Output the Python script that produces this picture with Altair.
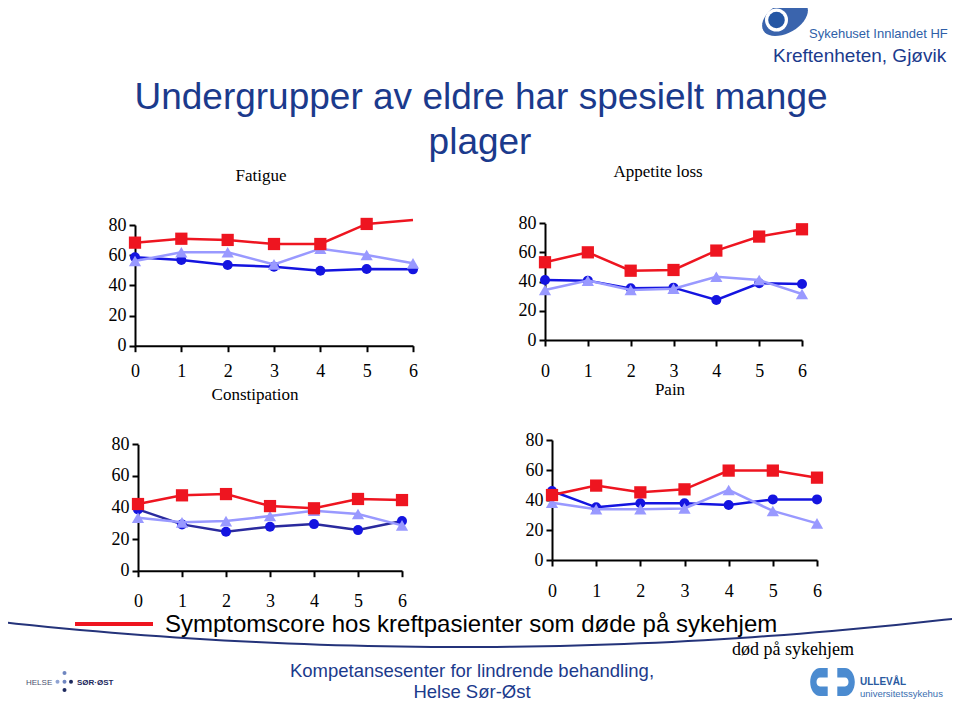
import math
import altair as alt
import pandas as pd

# ---------------- data ----------------
x_vals = [0, 1, 2, 3, 4, 5, 6]
y_ticks = [0, 20, 40, 60, 80]

fatigue_red = [68.3, 70.9, 70.1, 67.4, 67.4, 80.7, 83.3]
fatigue_blue = [58.6, 56.8, 53.5, 52.4, 49.7, 50.8, 50.6]
fatigue_light = [56.1, 61.9, 61.9, 53.9, 64.3, 60.1, 54.6]

appetite_red = [53.3, 60.1, 47.5, 48.0, 61.3, 70.9, 75.9]
appetite_blue = [41.1, 40.7, 35.4, 35.9, 27.4, 38.9, 38.4]
appetite_light = [34.3, 40.7, 34.3, 35.2, 43.4, 41.1, 31.5]

constipation_red = [42.2, 47.7, 48.5, 40.9, 39.5, 45.4, 44.7]
constipation_blue = [38.8, 29.3, 24.7, 27.8, 29.5, 25.7, 31.4]
constipation_light = [33.5, 30.6, 31.4, 34.6, 38.0, 35.9, 28.7]

pain_red = [43.3, 49.6, 45.1, 47.1, 59.6, 59.6, 54.9]
pain_blue = [46.0, 35.1, 37.8, 37.8, 36.7, 40.4, 40.4]
pain_light = [38.2, 33.8, 33.8, 34.4, 46.7, 32.7, 24.4]

title_lines = ["Undergrupper av eldre har spesielt mange", "plager"]
panel_titles = ["Fatigue", "Appetite loss", "Constipation", "Pain"]
legend_text = "Symptomscore hos kreftpasienter som døde på sykehjem"
legend_sub = "død på sykehjem"
footer_lines = ["Kompetansesenter for lindrende behandling,", "Helse Sør-Øst"]
logo_top = ["Sykehuset Innlandet HF", "Kreftenheten, Gjøvik"]
logo_ullevaal = ["ULLEVÅL", "universitetssykehus"]
logo_helse = ["HELSE", "SØR·ØST"]

# ---------------- styling ----------------
W, H = 944, 694
RED = "#EE1520"
BLUE = "#1414E0"
NAVYLINE = "#2A2A9E"
LIGHT = "#9999FF"
TXT_BLUE = "#1B3A8C"
SERIF = "Liberation Serif"
SANS = "Liberation Sans"

one = pd.DataFrame({"k": [0]})


def panel(red, blue, light, x0, x6, y0, y80, xpad, blue_line=BLUE, skip_last_red=False):
    df = pd.DataFrame({"x": x_vals, "red": red, "blue": blue, "light": light})
    sx = alt.Scale(domain=[0, 6], range=[x0, x6], nice=False, zero=False)
    sy = alt.Scale(domain=[0, 80], range=[y0, y80], nice=False, zero=False)
    common = dict(grid=False, domainColor="black", domainWidth=2, tickColor="black",
                  tickWidth=2, tickSize=6, labelFont=SERIF, labelFontSize=18,
                  labelColor="black", title=None, labelOverlap=False, labelFlush=False,
                  format="d")
    ax = alt.Axis(values=x_vals, orient="bottom", offset=y0 - H, labelPadding=xpad, **common)
    ay = alt.Axis(values=y_ticks, orient="left", offset=-x0, labelPadding=3, **common)
    base = alt.Chart(df)
    X = alt.X("x:Q", scale=sx, axis=ax)
    layers = []
    specs = [("blue", blue_line, BLUE, "circle", 100),
             ("light", LIGHT, LIGHT, "triangle-up", 150),
             ("red", RED, RED, "square", 150)]
    for col, lcol, mcol, shape, size in specs:
        Y = alt.Y(f"{col}:Q", scale=sy, axis=ay)
        layers.append(base.mark_line(color=lcol, strokeWidth=2.5).encode(x=X, y=Y))
        pts = base
        if col == "red" and skip_last_red:
            pts = base.transform_filter(alt.datum.x < 6)
        layers.append(pts.mark_point(filled=True, shape=shape, size=size, color=mcol,
                                     opacity=1).encode(x=X, y=Y))
    return alt.layer(*layers)


def txt(t, x, y, size, font=SANS, color="black", align="center", weight="normal"):
    return alt.Chart(one).mark_text(text=t, align=align, baseline="alphabetic", font=font,
                                    fontSize=size, color=color, fontWeight=weight).encode(
        x=alt.value(x), y=alt.value(y))


def sym(shape, x, y, size, color, filled=True, sw=1.0):
    if filled:
        m = alt.Chart(one).mark_point(shape=shape, size=size, filled=True, color=color,
                                      opacity=1, strokeWidth=0)
    else:
        m = alt.Chart(one).mark_point(shape=shape, size=size, filled=False, color=color,
                                      opacity=1, strokeWidth=sw)
    return m.encode(x=alt.value(x), y=alt.value(y))


p_tl = panel(fatigue_red, fatigue_blue, fatigue_light, 127, 405, 337.7, 217, 11, skip_last_red=True)
p_tr = panel(appetite_red, appetite_blue, appetite_light, 537, 794, 332, 215.3, 16)
p_bl = panel(constipation_red, constipation_blue, constipation_light, 130, 394, 562.7, 436.3, 16,
             blue_line=NAVYLINE)
p_br = panel(pain_red, pain_blue, pain_light, 544, 809, 552, 432, 16)

# decorative swoosh line across the bottom of the slide (quadratic bezier, pixel coords)
P0, C, P2 = (-8.0, 614.0), (472.0, 666.0), (952.0, 610.0)
sw_x, sw_y = [], []
for i in range(61):
    t = i / 60
    a, b, c = (1 - t) ** 2, 2 * t * (1 - t), t ** 2
    sw_x.append(a * P0[0] + b * C[0] + c * P2[0])
    sw_y.append(a * P0[1] + b * C[1] + c * P2[1])
swoosh = alt.Chart(pd.DataFrame({"px": sw_x, "py": sw_y, "o": list(range(61))})).mark_line(
    color="#24337A", strokeWidth=2).encode(
    x=alt.X("px:Q", scale=None, axis=None), y=alt.Y("py:Q", scale=None, axis=None),
    order="o:Q")

# eye logo (rotated ellipse)
pts = []
th = math.radians(-30)
for i in range(40):
    t = 2 * math.pi * i / 40
    ex, ey = math.cos(t), 0.6 * math.sin(t)
    pts.append((ex * math.cos(th) - ey * math.sin(th), ex * math.sin(th) + ey * math.cos(th)))
eye = "M " + " L ".join(f"{a:.3f} {b:.3f}" for a, b in pts) + " Z"

c_left = "M 0.55 -1 L 0 -1 A 0.7 1 0 0 0 0 1 L 0.55 1 L 0.55 0.32 L 0 0.32 A 0.25 0.32 0 0 1 0 -0.32 L 0.55 -0.32 Z"
c_right = "M -0.55 -1 L 0 -1 A 0.7 1 0 0 1 0 1 L -0.55 1 L -0.55 0.32 L 0 0.32 A 0.25 0.32 0 0 0 0 -0.32 L -0.55 -0.32 Z"

deco = [
    txt(title_lines[0], 473, 101, 37, color=TXT_BLUE),
    txt(title_lines[1], 472, 146, 37, color=TXT_BLUE),
    txt(panel_titles[0], 253, 173, 17, font=SERIF),
    txt(panel_titles[1], 650, 169, 17, font=SERIF),
    txt(panel_titles[2], 247, 392, 17, font=SERIF),
    txt(panel_titles[3], 662, 387, 17, font=SERIF),
    alt.Chart(one).mark_rule(color=RED, strokeWidth=4).encode(
        x=alt.value(67), x2=alt.value(145), y=alt.value(616)),
    txt(legend_text, 157, 624, 24, align="left"),
    txt(legend_sub, 724, 647, 18, font=SERIF, align="left"),
    txt(footer_lines[0], 464, 668.5, 18.5, color=TXT_BLUE),
    txt(footer_lines[1], 464, 690, 18.5, color=TXT_BLUE),
    # top-right logo
    sym(eye, 777, 10, 2500, "#3A64AD"),
    sym("circle", 768.5, 12, 529, "white"),
    sym("circle", 768.5, 12, 275, "#2456A4"),
    txt(logo_top[0], 801, 30, 13, color="#2F5FA8", align="left"),
    txt(logo_top[1], 765, 54, 19, color=TXT_BLUE, align="left"),
    # Helse Sør-Øst logo
    txt(logo_helse[0], 18, 676.5, 8, color="#4B5070", align="left"),
    sym("circle", 56.5, 665, 16, "#6F86C0"),
    sym("circle", 49.5, 673.7, 16, "#8FA3D3"),
    sym("circle", 56.5, 673.7, 16, "#6F86C0"),
    sym("circle", 63, 673.7, 16, "#1E2A5E"),
    sym("circle", 56.5, 682, 16, "#1E2A5E"),
    txt(logo_helse[1], 69, 676.5, 8, color="#1E2A5E", align="left", weight="bold"),
    # Ullevål logo
    sym(c_left, 812, 674, 784, "#4B8BD0"),
    sym(c_right, 837, 674, 784, "#4B8BD0"),
    txt(logo_ullevaal[0], 852, 677, 10, color="#2A5AA0", align="left", weight="bold"),
    txt(logo_ullevaal[1], 852, 689, 9.5, color="#3A6EB0", align="left"),
    swoosh,
]

chart = alt.layer(p_tl, p_tr, p_bl, p_br, *deco).resolve_scale(
    x="independent", y="independent").resolve_axis(x="independent", y="independent").properties(
    width=W, height=H, autosize=alt.AutoSizeParams(type="none"), padding=0,
    background="white").configure_view(stroke=None)

chart.save("out.html", embed_options={"renderer": "svg", "actions": False})
